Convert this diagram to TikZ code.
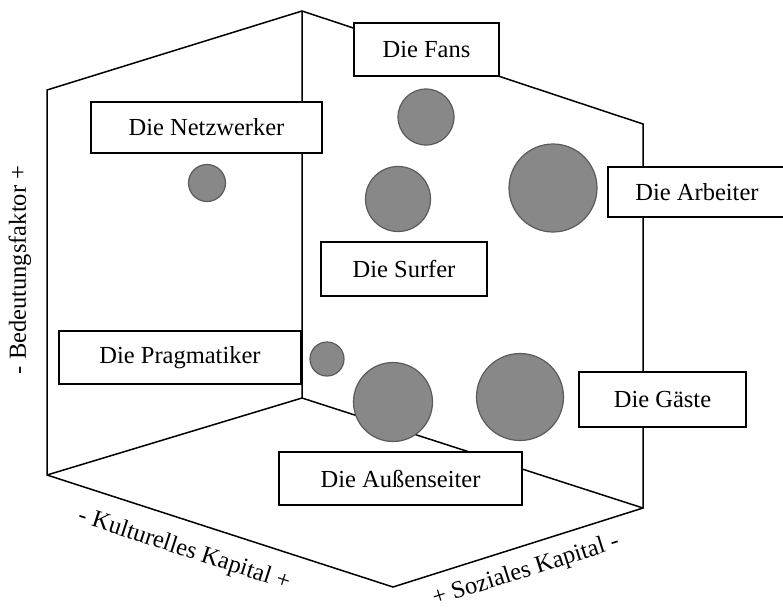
\documentclass[tikz,border=0pt]{standalone}
\usepackage{fontspec}
\setmainfont{Liberation Serif}
\usetikzlibrary{positioning}

\definecolor{blasfill}{HTML}{888888}
\definecolor{blasrand}{HTML}{5A5A5A}

\tikzset{
  gruppe/.style={draw,line width=2.2pt,fill=white,inner sep=0pt,
    font=\fontsize{24.5}{28}\selectfont},
  blase/.style={circle,draw=blasrand,fill=blasfill,line width=1.2pt,inner sep=0pt},
  achse/.style={font=\fontsize{24.5}{28}\selectfont,inner sep=0pt},
  kante/.style={line width=1.5pt,line join=miter}
}

\begin{document}
\begin{tikzpicture}[x=1pt,y=-1pt]
  \useasboundingbox (0,0) rectangle (783,611);
  % Ecken des Wuerfels
  \coordinate (C) at (302,398);
  \coordinate (T) at (302,11);
  \coordinate (LT) at (47,90);
  \coordinate (LB) at (47,475);
  \coordinate (B) at (393,587);
  \coordinate (RB) at (643,508);
  \coordinate (RT) at (643,124);
  \draw[kante] (LT) -- (T) -- (RT) -- (RB) -- (B) -- (LB) -- cycle;
  \draw[kante] (T) -- (C) -- (LB);
  \draw[kante] (C) -- (RB);

  % Blasen
  \node[blase,minimum size=56pt] (bFans) at (426,117) {};
  \node[blase,minimum size=37pt] (bNetz) at (207,183) {};
  \node[blase,minimum size=65pt] (bSurf) at (398,199) {};
  \node[blase,minimum size=88pt] (bArb) at (553,188) {};
  \node[blase,minimum size=34pt] (bPrag) at (327,359) {};
  \node[blase,minimum size=79pt] (bAuss) at (393,402) {};
  \node[blase,minimum size=87pt] (bGast) at (520,397) {};

  % Gruppen
  \node[gruppe,minimum width=145pt,minimum height=53pt] (fans) at (426.5,49.5) {Die Fans};
  \node[gruppe,minimum width=231pt,minimum height=51pt] (netz) at (206.5,127.5) {Die Netzwerker};
  \node[gruppe,minimum width=178pt,minimum height=50pt] (arb) at (697,192) {Die Arbeiter};
  \node[gruppe,minimum width=166pt,minimum height=54pt] (surf) at (404,269) {Die Surfer};
  \node[gruppe,minimum width=242pt,minimum height=53pt] (prag) at (180,357.5) {Die Pragmatiker};
  \node[gruppe,minimum width=243pt,minimum height=53pt] (auss) at (400.5,478.5) {Die Außenseiter};
  \node[gruppe,minimum width=167pt,minimum height=55pt] (gast) at (662.5,399.5) {Die Gäste};

  % Achsen
  \node[achse,rotate=90] (bedeutung) at (20,270) {- Bedeutungsfaktor +};
  \node[achse,rotate=-18] (kultur) at (184,550) {- Kulturelles Kapital +};
  \node[achse,rotate=17.5] (sozial) at (526,571) {+ Soziales Kapital -};
\end{tikzpicture}
\end{document}
